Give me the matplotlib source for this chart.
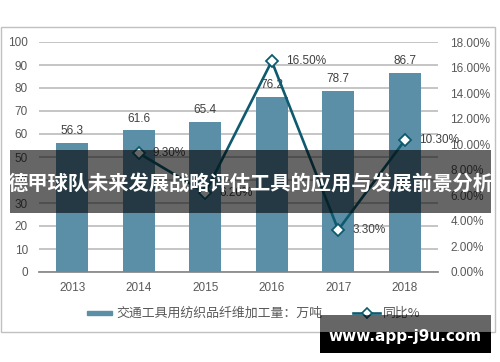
import matplotlib
matplotlib.use("Agg")
import matplotlib.pyplot as plt
import numpy as np
from matplotlib.patches import Rectangle
from matplotlib.lines import Line2D

years = ["2013", "2014", "2015", "2016", "2017", "2018"]
volume = [56.3, 61.6, 65.4, 76.2, 78.7, 86.7]
yoy = [np.nan, 9.30, 6.20, 16.50, 3.30, 10.30]
left_ticks = [0, 10, 20, 30, 40, 50, 60, 70, 80, 90, 100]
right_ticks = [0, 2, 4, 6, 8, 10, 12, 14, 16, 18]
bar_name = "交通工具用纺织品纤维加工量：万吨"
line_name = "同比%"
title = "德甲球队未来发展战略评估工具的应用与发展前景分析"
watermark = "www.app-j9u.com"

W, H = 500, 362
fig = plt.figure(figsize=(W / 100, H / 100), dpi=100)
fig.patch.set_facecolor("white")

def fx(px):
    return px / W

def fy(py):
    return (H - py) / H

bar_color = "#5b8fa8"
line_color = "#0e5a6e"
txt_color = "#404040"
num_font = "Liberation Sans"

# chart border
fig.patches.append(Rectangle((fx(1), fy(332)), fx(495) - fx(1), fy(27) - fy(332),
                             transform=fig.transFigure, fill=False,
                             edgecolor="#c0c0c0", linewidth=1.0, zorder=0))

ax = fig.add_axes([fx(39), fy(272), fx(438) - fx(39), fy(42) - fy(272)])
ax.set_facecolor("none")
x = np.arange(len(years))
ax.bar(x, volume, width=0.48, color=bar_color, zorder=3)
ax.set_xlim(-0.5, len(years) - 0.5)
ax.set_ylim(0, 100)
ax.set_yticks(left_ticks)
ax.set_yticklabels([str(v) for v in left_ticks], fontfamily=num_font, fontsize=8.5, color="#595959")
ax.set_xticks(x)
ax.set_xticklabels(years, fontfamily=num_font, fontsize=8.5, color="#595959")
ax.tick_params(axis="both", length=0)
ax.tick_params(axis="y", pad=8)
ax.tick_params(axis="x", pad=7)
ax.grid(axis="y", color="#c0c0c0", linewidth=1.3, zorder=0)
ax.set_axisbelow(True)
for s in ["top", "right", "left"]:
    ax.spines[s].set_visible(False)
ax.spines["bottom"].set_color("#8c8c8c")
ax.spines["bottom"].set_linewidth(1.3)
for xi, v in zip(x, volume):
    ax.annotate(f"{v:.1f}", (xi, v), xytext=(0, 4), textcoords="offset points",
                ha="center", va="bottom", fontfamily=num_font, fontsize=8.5, color=txt_color)

ax2 = ax.twinx()
ax2.set_ylim(0, 18)
ax2.set_yticks(right_ticks)
ax2.set_yticklabels([f"{v:.2f}%" for v in right_ticks], fontfamily=num_font, fontsize=8.5, color="#595959")
ax2.tick_params(axis="y", length=0, pad=9)
for s in ["top", "right", "left", "bottom"]:
    ax2.spines[s].set_visible(False)
ax2.plot(x, yoy, color=line_color, linewidth=1.9, marker="D", markersize=6.5,
         markerfacecolor="white", markeredgecolor=line_color, markeredgewidth=1.3, zorder=5)
for xi, v in zip(x, yoy):
    if np.isnan(v):
        continue
    ax2.annotate(f"{v:.2f}%", (xi, v), xytext=(10, 0), textcoords="offset points",
                 ha="left", va="center", fontfamily=num_font, fontsize=8.5, color=txt_color)

# legend (manual)
fig.patches.append(Rectangle((fx(87), fy(315)), fx(112) - fx(87), fy(311) - fy(315),
                             transform=fig.transFigure, color=bar_color))
fig.text(fx(116), fy(313), bar_name, fontfamily=["Noto Sans CJK SC", "DejaVu Sans"],
         fontsize=9.3, color="#595959", ha="left", va="center")
fig.lines.append(Line2D([fx(353), fx(380)], [fy(313), fy(313)], transform=fig.transFigure,
                        color=line_color, linewidth=1.9, marker=None))
fig.lines.append(Line2D([fx(366.5)], [fy(313)], transform=fig.transFigure,
                        color=line_color, marker="D", markersize=5, markerfacecolor="white",
                        markeredgecolor=line_color, markeredgewidth=1.2, linestyle="none"))
fig.text(fx(383), fy(313), line_name, fontfamily=["Noto Sans CJK SC", "DejaVu Sans"],
         fontsize=9.3, color="#595959", ha="left", va="center")

# overlays
ov = fig.add_axes([0, 0, 1, 1], zorder=20)
ov.set_xlim(0, W)
ov.set_ylim(H, 0)
ov.axis("off")
ov.patch.set_alpha(0)
ov.add_patch(Rectangle((10, 150), 481, 63, color="black", alpha=0.6, linewidth=0))
ov.text(250.5, 183, title, fontfamily=["Noto Sans CJK SC", "DejaVu Sans"], fontweight="bold",
        fontsize=14.6, color="white", ha="center", va="center")
ov.add_patch(Rectangle((320, 315), 171, 17, color="black", alpha=0.6, linewidth=0))
ov.add_patch(Rectangle((320, 332), 171, 21, color="black", linewidth=0))
ov.text(405.5, 336, watermark, fontfamily="DejaVu Sans", fontweight="bold",
        fontsize=11, color="white", ha="center", va="center")

fig.savefig("out.png", dpi=100, facecolor="white")
